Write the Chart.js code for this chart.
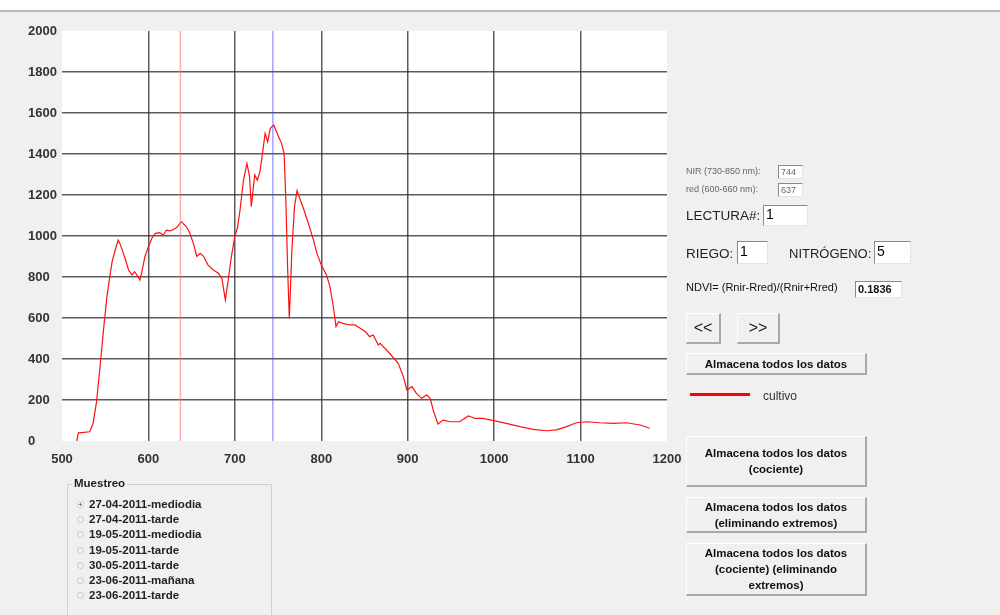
<!DOCTYPE html>
<html>
<head>
<meta charset="utf-8">
<script src="https://cdn.jsdelivr.net/npm/chart.js@4.4.1/dist/chart.umd.min.js"></script>
<style>
  body { margin: 0; background: #f0f0f0; font-family: "Liberation Sans", Arial, sans-serif; }
  #franja { position: absolute; left: 0; top: 0; width: 1000px; height: 10px; background: #fff; border-bottom: 2px solid #b8b8b8; }
  #grafico { position: absolute; left: 0; top: 0; width: 700px; height: 480px; }
  .lbl { position: absolute; white-space: nowrap; color: #222; }
  .caja { position: absolute; background: #fff; border-top: 1px solid #8a8a8a; border-left: 1px solid #8a8a8a;
          border-right: 1px solid #e4e4e4; border-bottom: 1px solid #e4e4e4; box-sizing: border-box; padding-left: 2px; }
  .boton { position: absolute; box-sizing: border-box; background: #f0f0f0; border-top: 1px solid #fff; border-left: 1px solid #fff;
           border-right: 2px solid #a8a8a8; border-bottom: 2px solid #a8a8a8; text-align: center;
           font-weight: bold; font-size: 11.5px; color: #111; display: flex; align-items: center; justify-content: center; line-height: 16px; }
  #muestreo { position: absolute; left: 67px; top: 484px; width: 205px; height: 140px; border: 1px solid #d0d0d0; box-sizing: border-box; }
  #muestreo .tit { position: absolute; left: 4px; top: -8px; background: #f0f0f0; padding: 0 2px; font-weight: bold; font-size: 11.5px; color: #222; }
  .op { position: absolute; left: 9px; font-weight: bold; font-size: 11.5px; color: #222; white-space: nowrap; }
  .op span { display: inline-block; width: 7px; height: 7px; border-radius: 50%; border: 1px solid #c8c8c8; margin-right: 5px; vertical-align: 0px; box-sizing: border-box; }
  .op span.on { background: radial-gradient(#777 30%, #fff 40%); }
</style>
</head>
<body>
<div id="franja"></div>
<div id="grafico"><canvas id="miGrafico"></canvas></div>

<div class="lbl" style="left:686px;top:166px;font-size:9px;color:#666;">NIR (730-850 nm):</div>
<div class="caja" style="left:778px;top:165px;width:25px;height:14px;font-size:9px;color:#666;line-height:12px;">744</div>
<div class="lbl" style="left:686px;top:184px;font-size:9px;color:#666;">red (600-660 nm):</div>
<div class="caja" style="left:778px;top:183px;width:25px;height:14px;font-size:9px;color:#666;line-height:12px;">637</div>

<div class="lbl" style="left:686px;top:208px;font-size:13.5px;">LECTURA#:</div>
<div class="caja" style="left:763px;top:205px;width:45px;height:21px;font-size:14px;line-height:17px;">1</div>

<div class="lbl" style="left:686px;top:246px;font-size:13.5px;">RIEGO:</div>
<div class="caja" style="left:737px;top:241px;width:31px;height:23px;font-size:14px;line-height:18px;">1</div>
<div class="lbl" style="left:789px;top:246px;font-size:13px;">NITRÓGENO:</div>
<div class="caja" style="left:874px;top:241px;width:37px;height:23px;font-size:14px;line-height:18px;">5</div>

<div class="lbl" style="left:686px;top:281px;font-size:11px;color:#111;">NDVI= (Rnir-Rred)/(Rnir+Rred)</div>
<div class="caja" style="left:855px;top:281px;width:47px;height:17px;font-size:11px;font-weight:bold;line-height:15px;color:#111;">0.1836</div>

<div class="boton" style="left:686px;top:313px;width:35px;height:31px;font-size:16px;font-weight:normal;">&lt;&lt;</div>
<div class="boton" style="left:737px;top:313px;width:43px;height:31px;font-size:16px;font-weight:normal;">&gt;&gt;</div>
<div class="boton" style="left:686px;top:353px;width:181px;height:22px;">Almacena todos los datos</div>

<div style="position:absolute;left:690px;top:393px;width:60px;height:3px;background:#ff0000;"></div>
<div class="lbl" style="left:763px;top:389px;font-size:12px;color:#333;">cultivo</div>

<div class="boton" style="left:686px;top:436px;width:181px;height:51px;">Almacena todos los datos<br>(cociente)</div>
<div class="boton" style="left:686px;top:497px;width:181px;height:36px;">Almacena todos los datos<br>(eliminando extremos)</div>
<div class="boton" style="left:686px;top:543px;width:181px;height:53px;">Almacena todos los datos<br>(cociente) (eliminando<br>extremos)</div>

<div id="muestreo">
  <div class="tit">Muestreo</div>
</div>

<script>
// longitud de onda (nm) y reflectancia
const longitudes = [517, 519, 525, 532, 536, 540, 544, 548, 552, 555, 558, 561, 565, 567, 571, 573, 577, 581, 584, 588,
    590, 592, 596, 600, 604, 608, 613, 617, 621, 625, 629, 633, 638, 644, 648, 652, 656, 660, 664, 669,
    675, 681, 685, 689, 692, 696, 700, 703, 706, 710, 714, 717, 719, 723, 726, 729, 732, 735, 738, 741,
    745, 749, 754, 757, 759, 761, 763, 766, 769, 772, 775, 780, 785, 791, 795, 800, 806, 810, 814, 817,
    820, 825, 833, 839, 845, 851, 856, 860, 866, 868, 879, 889, 895, 899, 905, 910, 916, 922, 926, 930,
    935, 941, 949, 960, 970, 978, 987, 1001, 1014, 1030, 1045, 1061, 1072, 1084, 1095, 1107, 1122, 1138, 1153, 1169, 1180];
const cultivo = [0, 40, 42, 45, 86, 192, 362, 541, 704, 793, 875, 923, 980, 964, 915, 890, 834, 810, 826, 802,
    785, 818, 900, 948, 989, 1013, 1016, 1005, 1029, 1025, 1032, 1042, 1070, 1045, 1013, 964, 900, 915, 900, 858,
    834, 818, 793, 688, 777, 899, 1000, 1040, 1127, 1273, 1354, 1290, 1143, 1298, 1273, 1314, 1403, 1500, 1460, 1525,
    1541, 1500, 1452, 1403, 1176, 850, 598, 932, 1143, 1221, 1184, 1127, 1062, 980, 915, 858, 810, 753, 655, 558,
    582, 574, 566, 566, 550, 533, 509, 517, 468, 476, 428, 379, 314, 249, 265, 232, 208, 224, 208, 143,
    83, 102, 94, 94, 122, 110, 110, 98, 86, 70, 57, 50, 54, 70, 89, 94, 89, 86, 89, 78, 62];

const bandaRed = 637;
const bandaNir = 744;

const xTicks = [500, 600, 700, 800, 900, 1000, 1100, 1200];
const yTicks = [0, 200, 400, 600, 800, 1000, 1200, 1400, 1600, 1800, 2000];

const opciones = ['27-04-2011-mediodia', '27-04-2011-tarde', '19-05-2011-mediodia', '19-05-2011-tarde',
    '30-05-2011-tarde', '23-06-2011-mañana', '23-06-2011-tarde'];

const caja = document.getElementById('muestreo');
opciones.forEach(function (t, i) {
    const d = document.createElement('div');
    d.className = 'op';
    d.style.top = (13 + i * 15.2) + 'px';
    d.innerHTML = '<span' + (i === 0 ? ' class="on"' : '') + '></span>' + t;
    caja.appendChild(d);
});

const fondoBlanco = {
    id: 'fondoBlanco',
    beforeDraw: function (chart) {
        const a = chart.chartArea;
        chart.ctx.save();
        chart.ctx.fillStyle = '#ffffff';
        chart.ctx.fillRect(a.left, a.top, a.right - a.left, a.bottom - a.top);
        chart.ctx.restore();
    }
};

function colorRejilla(ctx, ticks) {
    const v = ctx.tick ? ctx.tick.value : null;
    return (v === ticks[0] || v === ticks[ticks.length - 1]) ? 'rgba(0,0,0,0)' : 'rgba(50,50,50,0.8)';
}

const ctx = document.getElementById('miGrafico').getContext('2d');
new Chart(ctx, {
    type: 'line',
    data: {
        datasets: [{
            label: 'red',
            data: [{ x: bandaRed, y: yTicks[0] }, { x: bandaRed, y: yTicks[yTicks.length - 1] }],
            borderColor: 'rgba(255, 120, 120, 0.6)',
            borderWidth: 1.5,
            pointRadius: 0
        }, {
            label: 'nir',
            data: [{ x: bandaNir, y: yTicks[0] }, { x: bandaNir, y: yTicks[yTicks.length - 1] }],
            borderColor: 'rgba(80, 80, 255, 0.8)',
            borderWidth: 1,
            pointRadius: 0
        }, {
            label: 'cultivo',
            data: longitudes.map(function (l, i) { return { x: l, y: cultivo[i] }; }),
            borderColor: '#ff1010',
            borderWidth: 1.2,
            pointRadius: 0,
            tension: 0
        }]
    },
    options: {
        responsive: true,
        maintainAspectRatio: false,
        animation: false,
        layout: { padding: { left: 28, top: 31, right: 33, bottom: 0 } },
        plugins: { legend: { display: false }, tooltip: { enabled: false } },
        scales: {
            x: {
                type: 'linear',
                min: xTicks[0],
                max: xTicks[xTicks.length - 1],
                afterBuildTicks: function (s) { s.ticks = xTicks.map(function (v) { return { value: v }; }); },
                afterFit: function (s) { s.height = 39; },
                border: { display: false },
                grid: { drawTicks: false, lineWidth: 1.5, color: function (c) { return colorRejilla(c, xTicks); } },
                ticks: {
                    padding: 11, color: '#333', font: { family: 'Liberation Sans', size: 13, weight: 'bold' },
                    callback: function (v) { return String(v); }
                }
            },
            y: {
                min: yTicks[0],
                max: yTicks[yTicks.length - 1],
                afterBuildTicks: function (s) { s.ticks = yTicks.map(function (v) { return { value: v }; }); },
                afterFit: function (s) { s.width = 34; },
                border: { display: false },
                grid: { drawTicks: false, lineWidth: 1.5, color: function (c) { return colorRejilla(c, yTicks); } },
                ticks: {
                    crossAlign: 'far', color: '#333', font: { family: 'Liberation Sans', size: 13, weight: 'bold' },
                    callback: function (v) { return String(v); }
                }
            }
        }
    },
    plugins: [fondoBlanco]
});
</script>
</body>
</html>
